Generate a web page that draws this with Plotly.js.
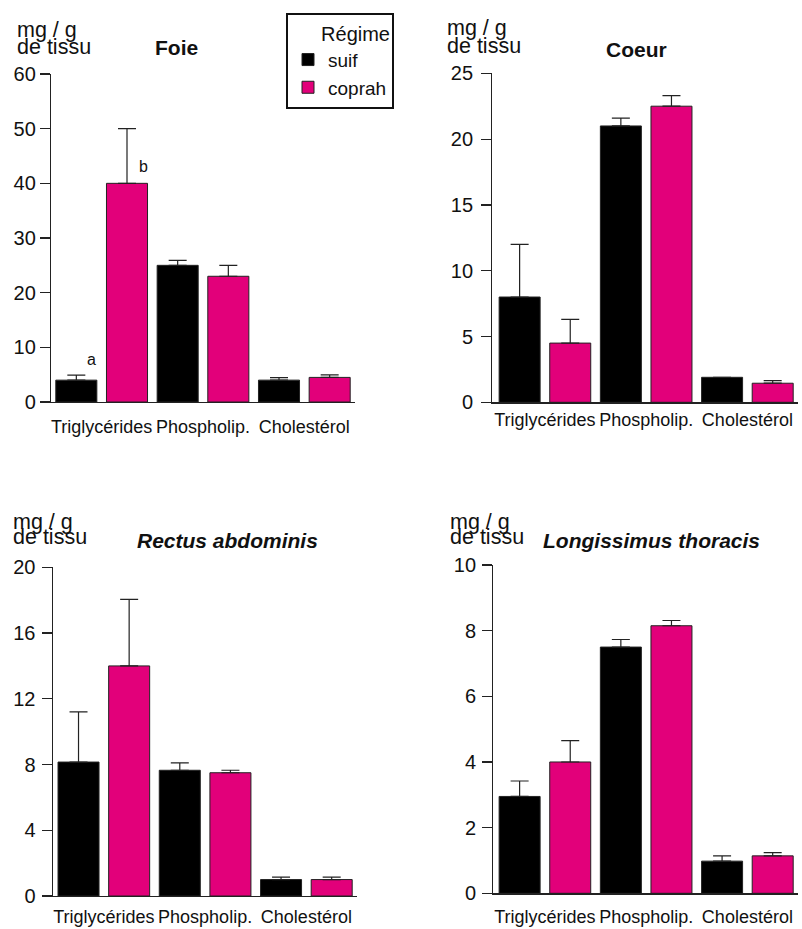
<!DOCTYPE html>
<html>
<head>
<meta charset="utf-8">
<script src="https://cdn.plot.ly/plotly-3.0.1.min.js"></script>
<style>html,body{margin:0;padding:0;background:#fff;}#chart{width:802px;height:929px;}</style>
</head>
<body>
<div id="chart"></div>
<script>
// ---- Data ----
const categories = ["Triglycérides", "Phospholip.", "Cholestérol"];
const seriesNames = ["suif", "coprah"];

// Foie
const foieSuif = [4.0, 25.0, 4.0];
const foieSuifErr = [0.9, 0.9, 0.45];
const foieCoprah = [40.0, 23.0, 4.5];
const foieCoprahErr = [10.0, 2.0, 0.45];

// Coeur
const coeurSuif = [8.0, 21.0, 1.9];
const coeurSuifErr = [4.0, 0.6, 0.0];
const coeurCoprah = [4.5, 22.5, 1.45];
const coeurCoprahErr = [1.8, 0.8, 0.2];

// Rectus abdominis
const rectusSuif = [8.15, 7.65, 1.0];
const rectusSuifErr = [3.05, 0.45, 0.15];
const rectusCoprah = [14.0, 7.5, 1.0];
const rectusCoprahErr = [4.05, 0.15, 0.15];

// Longissimus thoracis
const longSuif = [2.95, 7.5, 0.98];
const longSuifErr = [0.47, 0.23, 0.16];
const longCoprah = [4.0, 8.15, 1.14];
const longCoprahErr = [0.65, 0.16, 0.1];

const panelTitles = ["<b>Foie</b>", "<b>Coeur</b>", "<b><i>Rectus abdominis</i></b>", "<b><i>Longissimus thoracis</i></b>"];
const yTicks1 = [0, 10, 20, 30, 40, 50, 60];
const yTicks2 = [0, 5, 10, 15, 20, 25];
const yTicks3 = [0, 4, 8, 12, 16, 20];
const yTicks4 = [0, 2, 4, 6, 8, 10];
const unitLine1 = "mg / g";
const unitLine2 = "de tissu";
const legendTitle = "Régime";
const signifLabels = ["a", "b"];

// ---- Styles ----
const W = 802, H = 929;
const FONT = "Liberation Sans, Arial, Helvetica, sans-serif";
const BLACK = "#000000";
const PINK = "#E2007A";
const LINE = "#222222";

function px(x) { return x / W; }
function py(y) { return 1 - y / H; }

function mkTrace(name, vals, errs, color, xa, ya, showLeg) {
  return {
    type: "bar", name: name, x: categories, y: vals,
    xaxis: xa, yaxis: ya, legendgroup: name, showlegend: showLeg,
    marker: {color: color, line: {color: LINE, width: 1}},
    error_y: {type: "data", symmetric: false, array: errs, arrayminus: errs.map(() => 0),
              color: LINE, thickness: 1.2, width: 9},
    hoverinfo: "y"
  };
}

const data = [
  mkTrace(seriesNames[0], foieSuif, foieSuifErr, BLACK, "x", "y", true),
  mkTrace(seriesNames[1], foieCoprah, foieCoprahErr, PINK, "x", "y", true),
  mkTrace(seriesNames[0], coeurSuif, coeurSuifErr, BLACK, "x2", "y2", false),
  mkTrace(seriesNames[1], coeurCoprah, coeurCoprahErr, PINK, "x2", "y2", false),
  mkTrace(seriesNames[0], rectusSuif, rectusSuifErr, BLACK, "x3", "y3", false),
  mkTrace(seriesNames[1], rectusCoprah, rectusCoprahErr, PINK, "x3", "y3", false),
  mkTrace(seriesNames[0], longSuif, longSuifErr, BLACK, "x4", "y4", false),
  mkTrace(seriesNames[1], longCoprah, longCoprahErr, PINK, "x4", "y4", false)
];

function xAxis(anchor, d0, d1, r0, standoff) {
  return {
    anchor: anchor, domain: [px(d0), px(d1)], type: "category",
    range: [r0, 2.5], showline: true, linecolor: LINE, linewidth: 1.2,
    ticks: "", showgrid: false, zeroline: false, fixedrange: true,
    tickangle: 0,
    tickfont: {family: FONT, size: 18, color: "#111"},
    ticklabelstandoff: standoff
  };
}
function yAxis(anchor, yb, yt, maxv, tv, standoff) {
  return {
    anchor: anchor, domain: [py(yb), py(yt)], range: [0, maxv],
    tickvals: tv, ticktext: tv.map(String),
    showline: true, linecolor: LINE, linewidth: 1.2,
    ticks: "outside", ticklen: 10, tickwidth: 1.2, tickcolor: LINE,
    showgrid: false, zeroline: false, fixedrange: true,
    tickfont: {family: FONT, size: 20, color: "#111"},
    ticklabelstandoff: standoff
  };
}

const annFont = {family: FONT, size: 21.5, color: "#111"};
function txt(text, x, y, xanchor, size) {
  return {text: text, x: px(x), y: py(y), xref: "paper", yref: "paper",
          xanchor: xanchor, yanchor: "middle", showarrow: false,
          font: Object.assign({}, annFont, size ? {size: size} : {})};
}

const annotations = [
  txt(unitLine1, 15, 30, "left"), txt(unitLine2, 15, 47, "left"),
  txt(panelTitles[0], 176, 47, "center", 21),
  txt(unitLine1, 445, 28, "left"), txt(unitLine2, 445, 46, "left"),
  txt(panelTitles[1], 636, 50, "center", 21),
  txt(unitLine1, 11, 522, "left"), txt(unitLine2, 11, 537, "left"),
  txt(panelTitles[2], 227, 540, "center", 21),
  txt(unitLine1, 448, 522, "left"), txt(unitLine2, 448, 537, "left"),
  txt(panelTitles[3], 651, 540, "center", 21),
  txt(signifLabels[0], 91, 360, "center", 16),
  txt(signifLabels[1], 143, 166, "center", 16)
];

const layout = {
  width: W, height: H,
  margin: {l: 0, r: 0, t: 0, b: 0},
  paper_bgcolor: "#fff", plot_bgcolor: "#fff",
  barmode: "group", bargap: 0, bargroupgap: 0.19,
  font: {family: FONT, color: "#111"},
  xaxis: xAxis("y", 51, 355, -0.5, 8),
  yaxis: yAxis("x", 402, 74, 60, yTicks1, 0),
  xaxis2: xAxis("y2", 492.3, 798, -0.52, 1),
  yaxis2: yAxis("x2", 402.3, 73.3, 25, yTicks2, 4),
  xaxis3: xAxis("y3", 52.7, 357, -0.505, 4),
  yaxis3: yAxis("x3", 896, 567.3, 20, yTicks3, 2),
  xaxis4: xAxis("y4", 493.3, 798, -0.51, 7),
  yaxis4: yAxis("x4", 893.3, 565, 10, yTicks4, 2),
  showlegend: true,
  legend: {
    x: px(286), y: py(12.7), xanchor: "left", yanchor: "top",
    bordercolor: "#111", borderwidth: 2, bgcolor: "#fff",
    font: {family: FONT, size: 19, color: "#111"},
    title: {text: legendTitle, side: "top right", font: {family: FONT, size: 20, color: "#111"}},
    tracegroupgap: 0, itemwidth: 30
  },
  annotations: annotations
};

Plotly.newPlot("chart", data, layout, {staticPlot: true, displayModeBar: false});
</script>
</body>
</html>
